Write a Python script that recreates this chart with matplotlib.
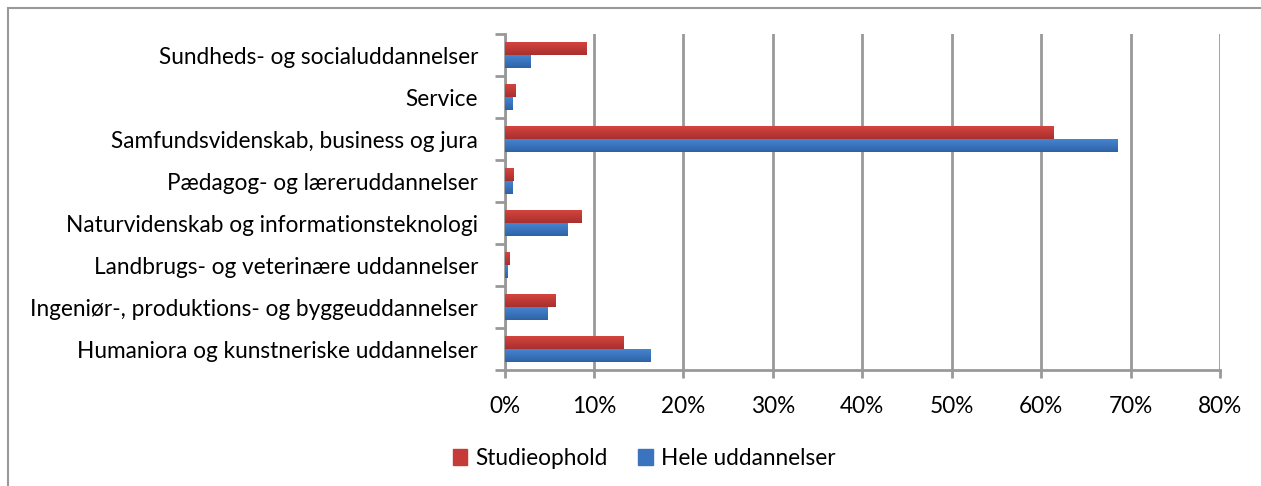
import matplotlib
matplotlib.use("Agg")
import matplotlib.pyplot as plt
import numpy as np
from matplotlib.patches import Rectangle
from matplotlib.colors import LinearSegmentedColormap

categories = [
    "Humaniora og kunstneriske uddannelser",
    "Ingeniør-, produktions- og byggeuddannelser",
    "Landbrugs- og veterinære uddannelser",
    "Naturvidenskab og informationsteknologi",
    "Pædagog- og læreruddannelser",
    "Samfundsvidenskab, business og jura",
    "Service",
    "Sundheds- og socialuddannelser",
]
studieophold = [13.3, 5.6, 0.45, 8.5, 1.0, 61.3, 1.2, 9.1]
hele = [16.3, 4.8, 0.25, 7.0, 0.8, 68.5, 0.8, 2.8]
series_names = ["Studieophold", "Hele uddannelser"]
xticks = [0, 10, 20, 30, 40, 50, 60, 70, 80]

plt.rcParams['font.family'] = ['Lato', 'DejaVu Sans']
FS = 16.3

fig = plt.figure(figsize=(12.61, 4.86), dpi=100)
ax = fig.add_axes([504.5/1261, 1-370/486, (1220-504.5)/1261, (370-34)/486])

y = np.arange(len(categories))
h = 0.3
red_c = "#C43B37"
blue_c = "#3B74BE"
b1 = ax.barh(y + h/2, studieophold, height=h, color=red_c, label=series_names[0], zorder=3)
b2 = ax.barh(y - h/2, hele, height=h, color=blue_c, label=series_names[1], zorder=3)

def grad(bars, top, bot):
    cmap = LinearSegmentedColormap.from_list("g", [bot, top])
    g = np.linspace(0, 1, 50).reshape(-1, 1)
    for p in bars:
        x0, y0 = p.get_x(), p.get_y()
        w, hh = p.get_width(), p.get_height()
        ax.imshow(g, cmap=cmap, aspect='auto', origin='lower',
                  extent=[x0, x0 + w, y0, y0 + hh], zorder=3.5, interpolation='bilinear')
grad(b1, "#D4443F", "#A8302E")
grad(b2, "#4585D0", "#2F62A6")

ax.set_xlim(0, 80)
ax.set_ylim(-0.5, len(categories) - 0.5)
ax.set_xticks(xticks)
ax.set_xticklabels([f"{t}%" for t in xticks], fontsize=FS)
ax.set_yticks(y)
ax.set_yticklabels(categories, fontsize=FS)
ax.set_yticks(np.arange(len(categories) + 1) - 0.5, minor=True)
ax.tick_params(axis='y', which='major', length=0, pad=19)
ax.tick_params(axis='y', which='minor', length=7, width=2, color="#999999")
ax.tick_params(axis='x', which='major', length=6, width=2, color="#999999", pad=13)
ax.grid(axis='x', color="#999999", linewidth=2, zorder=0)
for s in ['top', 'right']:
    ax.spines[s].set_visible(False)
for s in ['left', 'bottom']:
    ax.spines[s].set_color("#999999")
    ax.spines[s].set_linewidth(2)

handles = [Rectangle((0, 0), 1, 1, color=red_c), Rectangle((0, 0), 1, 1, color=blue_c)]
fig.legend(handles, series_names, loc='center', bbox_to_anchor=(644/1261, 1-458/486),
           ncol=2, frameon=False, fontsize=FS, handlelength=0.65, handleheight=0.7,
           columnspacing=1.35, handletextpad=0.35)

fig.patches.append(Rectangle((8/1261, -0.1), 1.1, 1 - 8/486 + 0.1, transform=fig.transFigure,
                             fill=False, edgecolor="#999999", linewidth=1.5))

fig.savefig("out.png", dpi=100)
